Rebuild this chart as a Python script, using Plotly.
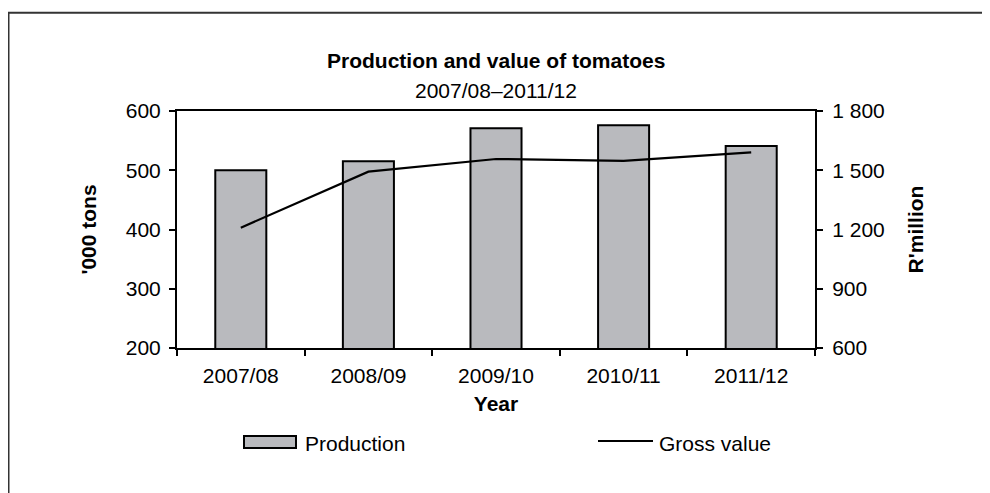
import plotly.graph_objects as go

years = ["2007/08", "2008/09", "2009/10", "2010/11", "2011/12"]
production = [500, 515, 571, 576, 541]        # '000 tons
gross_value = [1209, 1493, 1557, 1547, 1591]  # R'million

FONT = "Liberation Sans, Arial, sans-serif"
BAR_COLOR = "#B9BABE"

# plot area in figure pixels (page is offset by 8px body margin)
L, T, PW, PH = 169, 103, 638, 237
W, H = 990, 493


def px(X):  # page x -> paper x
    return (X - 8 - L) / PW


def py(Y):  # page y -> paper y
    return (T + PH - (Y - 8)) / PH


fig = go.Figure()
fig.add_trace(go.Bar(
    x=years, y=production, name="Production",
    marker=dict(color=BAR_COLOR, line=dict(color="black", width=2)),
    width=0.4, showlegend=False,
))
fig.add_trace(go.Scatter(
    x=years, y=gross_value, name="Gross value", yaxis="y2",
    mode="lines", line=dict(color="black", width=2.2), showlegend=False,
))

axis_common = dict(showline=True, linecolor="black", linewidth=2,
                   ticks="outside", ticklen=6, tickwidth=2, tickcolor="black",
                   showgrid=False, zeroline=False)
title_font = dict(size=21)

fig.update_layout(
    width=W, height=H,
    margin=dict(l=L, r=W - L - PW, t=T, b=H - T - PH, autoexpand=False),
    paper_bgcolor="white", plot_bgcolor="white",
    font=dict(family=FONT, size=21, color="black"),
    separators=". ",
    showlegend=False,
    xaxis=dict(
        **axis_common, mirror=True, tickson="boundaries", ticklabelstandoff=8,
        title=dict(text="<b>Year</b>", standoff=10, font=title_font),
    ),
    yaxis=dict(
        **axis_common, range=[200, 600], dtick=100, ticklabelstandoff=4,
        title=dict(text="<b>'000 tons</b>", standoff=23, font=title_font),
    ),
    yaxis2=dict(
        **axis_common, range=[600, 1800], dtick=300, overlaying="y", side="right",
        ticklabelstandoff=5, separatethousands=True, tickformat=",d",
        title=dict(text="<b>R'million</b>", standoff=25, font=title_font),
    ),
    shapes=[
        # outer frame
        dict(type="rect", xref="paper", yref="paper",
             x0=(0.5 - L) / PW, x1=2.0, y0=-2.0, y1=(T + PH - 4.7) / PH,
             line=dict(color="#333333", width=2)),
        # legend symbols
        dict(type="rect", xref="paper", yref="paper",
             x0=px(244), x1=px(296), y0=py(448), y1=py(436),
             fillcolor=BAR_COLOR, line=dict(color="black", width=2)),
        dict(type="line", xref="paper", yref="paper",
             x0=px(598), x1=px(653), y0=py(441), y1=py(441),
             line=dict(color="black", width=2.2)),
    ],
    annotations=[
        dict(text="<b>Production and value of tomatoes</b>", xref="paper", yref="paper",
             x=px(496), y=py(61), showarrow=False, yanchor="middle"),
        dict(text="2007/08–2011/12", xref="paper", yref="paper",
             x=px(496), y=py(90), showarrow=False, yanchor="middle"),
        dict(text="Production", xref="paper", yref="paper",
             x=px(303), y=py(443), xanchor="left", yanchor="middle", showarrow=False),
        dict(text="Gross value", xref="paper", yref="paper",
             x=px(657), y=py(443), xanchor="left", yanchor="middle", showarrow=False),
    ],
)

fig.write_html("out.html")
